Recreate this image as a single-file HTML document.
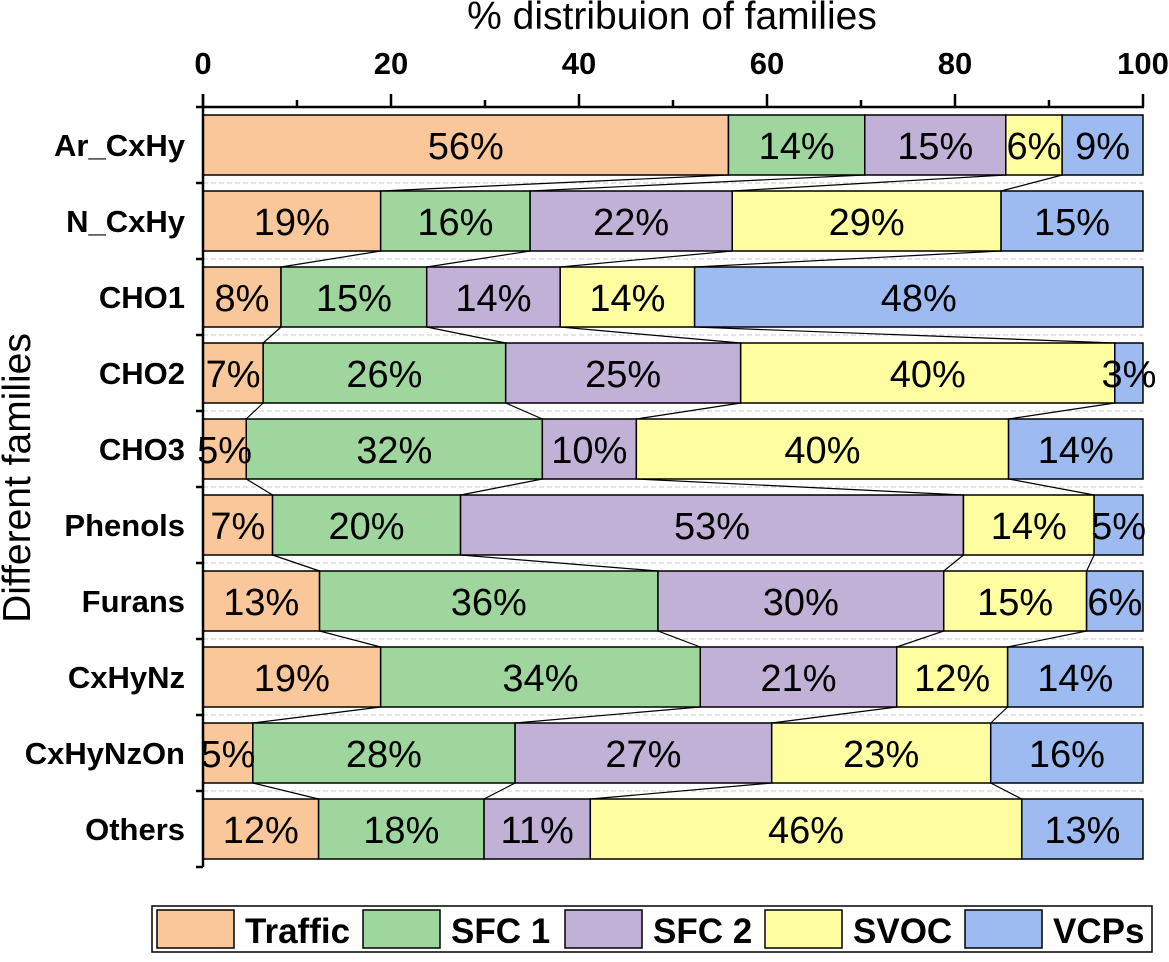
<!DOCTYPE html>
<html><head><meta charset="utf-8"><style>
body{margin:0;background:#fff;width:1169px;height:957px;overflow:hidden}
svg text{font-family:"Liberation Sans",Arial,sans-serif}
</style></head><body>
<svg id="c" width="1169" height="957"></svg>
<script>
const categories=["Ar_CxHy","N_CxHy","CHO1","CHO2","CHO3","Phenols","Furans","CxHyNz","CxHyNzOn","Others"];
const seriesNames=["Traffic","SFC 1","SFC 2","SVOC","VCPs"];
const traffic=[55.9,18.9,8.3,6.4,4.6,7.4,12.4,18.9,5.3,12.3];
const sfc1=[14.5,15.9,15.5,25.8,31.5,20.0,36.0,34.0,27.9,17.6];
const sfc2=[15.0,21.5,14.2,25.0,10.0,53.5,30.4,20.9,27.3,11.3];
const svoc=[6.0,28.6,14.3,39.8,39.6,13.9,15.2,11.8,23.3,45.9];
const vcps=[8.6,15.1,47.7,3.0,14.3,5.2,6.0,14.4,16.2,12.9];
const labels=[["56%","14%","15%","6%","9%"],["19%","16%","22%","29%","15%"],["8%","15%","14%","14%","48%"],["7%","26%","25%","40%","3%"],["5%","32%","10%","40%","14%"],["7%","20%","53%","14%","5%"],["13%","36%","30%","15%","6%"],["19%","34%","21%","12%","14%"],["5%","28%","27%","23%","16%"],["12%","18%","11%","46%","13%"]];
const xTicks=[0,20,40,60,80,100];
const colors=["#f9c799","#9ed69e","#c2b1d6","#fefea0","#9dbbf0"];
const series=[traffic,sfc1,sfc2,svoc,vcps];
const X0=203,X1=1143,Y0=107,BAND=76,BH=60;
const xs=v=>X0+(X1-X0)*v/100;
const yb=i=>Y0+BAND*i;
const svg=document.getElementById('c');
const NS="http://www.w3.org/2000/svg";
function mk(t,a,p){const e=document.createElementNS(NS,t);for(const k in a)e.setAttribute(k,a[k]);(p||svg).appendChild(e);return e;}
for(let i=1;i<categories.length;i++){
 const d=mk('line',{x1:X0,x2:X1,y1:yb(i),y2:yb(i),stroke:'#c8c8c8','stroke-dasharray':'5,3','stroke-width':1});
 
 
}
const cum=categories.map((c,i)=>{let s=0;const a=[0];series.forEach(sr=>{s+=sr[i];a.push(s);});return a;});
for(let i=0;i<categories.length-1;i++){
 for(let k=1;k<5;k++){
  const l=mk('line',{x1:xs(cum[i][k]),y1:yb(i)+(BAND+BH)/2,x2:xs(cum[i+1][k]),y2:yb(i+1)+(BAND-BH)/2,stroke:'#000','stroke-width':1.2});
  
  
 }
}
categories.forEach((c,i)=>{
 const top=yb(i)+(BAND-BH)/2;
 for(let k=0;k<5;k++){
  const x=xs(cum[i][k]),w=xs(cum[i][k+1])-x;
  const r=mk('rect',{x:x,y:top,width:w,height:BH,fill:colors[k],stroke:'#000','stroke-width':1.5});
  
  
 }
 for(let k=0;k<5;k++){
  const t=mk('text',{x:(xs(cum[i][k])+xs(cum[i][k+1]))/2,y:top+BH/2+14,'text-anchor':'middle','font-size':38});
  t.textContent=labels[i][k];
  
  
 }
 const cl=mk('text',{x:185,y:yb(i)+BAND/2+11,'text-anchor':'end','font-size':31,'font-weight':'bold'});
 cl.textContent=c;
 
 
 const tk=mk('line',{x1:196,x2:X0,y1:yb(i+1),y2:yb(i+1),stroke:'#000','stroke-width':2.5});
 
 
});
const ax=mk('line',{x1:X0,x2:X0,y1:94,y2:yb(categories.length),stroke:'#000','stroke-width':2.5});


const tx=mk('line',{x1:196,x2:X1+1,y1:Y0,y2:Y0,stroke:'#000','stroke-width':2.5});


for(let v=0;v<=100;v+=10){
 const m=mk('line',{x1:xs(v),x2:xs(v),y1:Y0,y2:v%20?100:94,stroke:'#000','stroke-width':2.5});
 
 
}
xTicks.forEach(v=>{
 const t=mk('text',{x:xs(v),y:74,'text-anchor':'middle','font-size':31,'font-weight':'bold'});
 t.textContent=v;
 
 
});
const xt=mk('text',{x:672,y:29,'text-anchor':'middle','font-size':39});
xt.textContent='% distribuion of families';


const yt=mk('text',{x:0,y:0,'text-anchor':'middle','font-size':39,transform:'translate(30,478) rotate(-90)'});
yt.textContent='Different families';


const lg=mk('rect',{x:152,y:906,width:1000,height:46,fill:'#fff',stroke:'#000','stroke-width':1.5});


const sw=[157,363,565,765,965];
seriesNames.forEach((n,k)=>{
 const r=mk('rect',{x:sw[k],y:910,width:77,height:38,fill:colors[k],stroke:'#000','stroke-width':1.5});
 
 
 const t=mk('text',{x:sw[k]+88,y:943,'font-size':35,'font-weight':'bold'});
 t.textContent=n;
 
 
});
</script>
</body></html>
